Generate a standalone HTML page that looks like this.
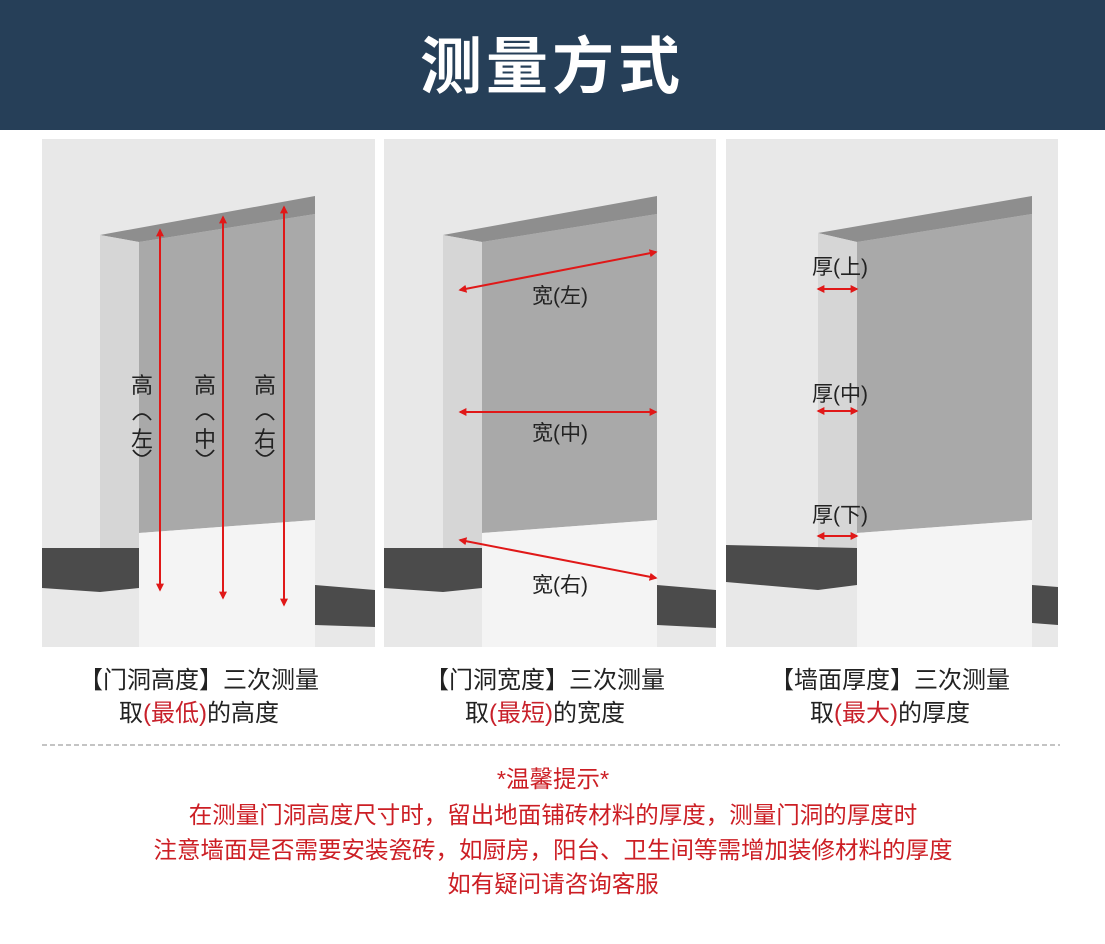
<!DOCTYPE html>
<html><head><meta charset="utf-8"><style>
html,body{margin:0;padding:0;background:#fff;}
svg{display:block;}
text{font-family:"Liberation Sans","Noto Sans CJK SC",sans-serif;}
</style></head><body>
<svg width="1105" height="944" viewBox="0 0 1105 944" xmlns="http://www.w3.org/2000/svg">
<defs>
<marker id="a" viewBox="0 0 10 10" refX="8" refY="5" markerWidth="4" markerHeight="4" orient="auto-start-reverse"><path d="M0,0 L10,5 L0,10 z" fill="#e01818"/></marker>
</defs>
<rect x="0" y="0" width="1105" height="130" fill="#263f58"/>
<text x="552" y="88" font-size="62" font-weight="bold" fill="#fff" text-anchor="middle" letter-spacing="4">测量方式</text>

<!-- Panel 1 -->
<rect x="42" y="139" width="333" height="508" fill="#e8e8e8"/>
<polygon points="139,242 315,214 315,520 139,533" fill="#a9a9a9"/>
<polygon points="139,533 315,520 315,647 139,647" fill="#f4f4f4"/>
<polygon points="100,235 315,196 315,214 139,242" fill="#8e8e8e"/>
<polygon points="100,235 139,242 139,548 100,548" fill="#d6d6d6"/>
<polygon points="42,548 139,548 139,588 100,592 42,588" fill="#4b4b4b"/>
<polygon points="315,585 375,590 375,627 315,625" fill="#4b4b4b"/>
<line x1="160" y1="230" x2="160" y2="590" stroke="#e01818" stroke-width="2" marker-start="url(#a)" marker-end="url(#a)"/>
<line x1="223" y1="217" x2="223" y2="598" stroke="#e01818" stroke-width="2" marker-start="url(#a)" marker-end="url(#a)"/>
<line x1="284" y1="207" x2="284" y2="605" stroke="#e01818" stroke-width="2" marker-start="url(#a)" marker-end="url(#a)"/>
<g font-size="22" fill="#222" text-anchor="middle">
<text x="142" y="393">高</text><text x="142" y="447">左</text>
<text x="205" y="393">高</text><text x="205" y="447">中</text>
<text x="265" y="393">高</text><text x="265" y="447">右</text>
</g>
<g fill="none" stroke="#222" stroke-width="1.8">
<path d="M133,420 Q142,408 151,420"/><path d="M133,450 Q142,462 151,450"/>
<path d="M196,420 Q205,408 214,420"/><path d="M196,450 Q205,462 214,450"/>
<path d="M256,420 Q265,408 274,420"/><path d="M256,450 Q265,462 274,450"/>
</g>

<!-- Panel 2 -->
<rect x="384" y="139" width="332" height="508" fill="#e8e8e8"/>
<polygon points="482,242 657,214 657,520 482,533" fill="#a9a9a9"/>
<polygon points="482,533 657,520 657,647 482,647" fill="#f4f4f4"/>
<polygon points="443,235 657,196 657,214 482,242" fill="#8e8e8e"/>
<polygon points="443,235 482,242 482,548 443,548" fill="#d6d6d6"/>
<polygon points="384,548 482,548 482,588 443,592 384,588" fill="#4b4b4b"/>
<polygon points="657,585 716,590 716,628 657,625" fill="#4b4b4b"/>
<line x1="460" y1="290" x2="656" y2="252" stroke="#e01818" stroke-width="2" marker-start="url(#a)" marker-end="url(#a)"/>
<line x1="460" y1="412" x2="656" y2="412" stroke="#e01818" stroke-width="2" marker-start="url(#a)" marker-end="url(#a)"/>
<line x1="460" y1="540" x2="656" y2="578" stroke="#e01818" stroke-width="2" marker-start="url(#a)" marker-end="url(#a)"/>
<g font-size="21" fill="#222" text-anchor="middle">
<text x="560" y="303">宽(左)</text><text x="560" y="440">宽(中)</text><text x="560" y="592">宽(右)</text>
</g>

<!-- Panel 3 -->
<rect x="726" y="139" width="332" height="508" fill="#e8e8e8"/>
<polygon points="857,242 1032,214 1032,520 857,533" fill="#a9a9a9"/>
<polygon points="857,533 1032,520 1032,647 857,647" fill="#f4f4f4"/>
<polygon points="818,233 1032,196 1032,214 857,242" fill="#8e8e8e"/>
<polygon points="818,233 857,242 857,548 818,548" fill="#d6d6d6"/>
<polygon points="726,545 857,548 857,585 818,590 726,582" fill="#4b4b4b"/>
<polygon points="1032,585 1058,587 1058,625 1032,623" fill="#4b4b4b"/>
<line x1="818" y1="289" x2="857" y2="289" stroke="#e01818" stroke-width="2" marker-start="url(#a)" marker-end="url(#a)"/>
<line x1="818" y1="411" x2="857" y2="411" stroke="#e01818" stroke-width="2" marker-start="url(#a)" marker-end="url(#a)"/>
<line x1="818" y1="536" x2="857" y2="536" stroke="#e01818" stroke-width="2" marker-start="url(#a)" marker-end="url(#a)"/>
<g font-size="21" fill="#222" text-anchor="middle">
<text x="840" y="274">厚(上)</text><text x="840" y="401">厚(中)</text><text x="840" y="522">厚(下)</text>
</g>

<!-- captions -->
<g font-size="24" fill="#222" text-anchor="middle">
<text x="199" y="688">【门洞高度】三次测量</text>
<text x="199" y="721">取<tspan fill="#c8202a">(最低)</tspan>的高度</text>
<text x="545" y="688">【门洞宽度】三次测量</text>
<text x="545" y="721">取<tspan fill="#c8202a">(最短)</tspan>的宽度</text>
<text x="890" y="688">【墙面厚度】三次测量</text>
<text x="890" y="721">取<tspan fill="#c8202a">(最大)</tspan>的厚度</text>
</g>
<line x1="42" y1="745" x2="1060" y2="745" stroke="#888" stroke-width="1" stroke-dasharray="5,3"/>
<g font-size="23.5" fill="#cc1e24" text-anchor="middle">
<text x="553" y="787">*温馨提示*</text>
<text x="553" y="823">在测量门洞高度尺寸时，留出地面铺砖材料的厚度，测量门洞的厚度时</text>
<text x="553" y="858">注意墙面是否需要安装瓷砖，如厨房，阳台、卫生间等需增加装修材料的厚度</text>
<text x="553" y="892">如有疑问请咨询客服</text>
</g>
</svg>
</body></html>
